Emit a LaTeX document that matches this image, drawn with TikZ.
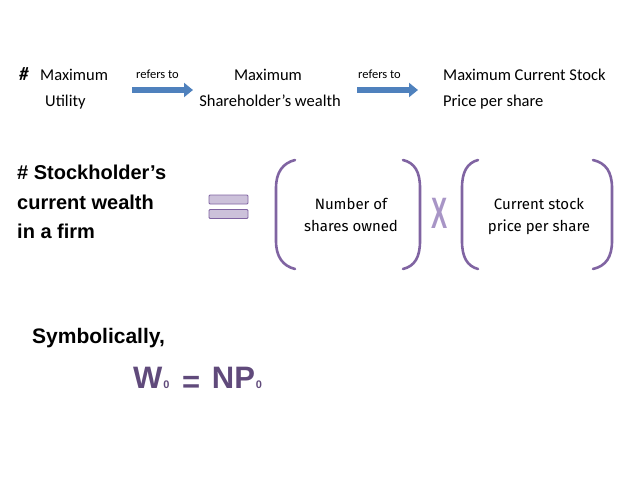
\documentclass[tikz,border=0pt]{standalone}
\usepackage{fontspec}
\setmainfont{Carlito}
\newfontfamily\arialfont{Liberation Sans}
\newfontfamily\handfont{Fira Sans}
\usetikzlibrary{arrows.meta}

\definecolor{arrowblue}{HTML}{4F81BD}
\definecolor{parenpurple}{HTML}{8064A2}
\definecolor{barfill}{HTML}{CCC1DA}
\definecolor{xfill}{HTML}{A895C6}
\definecolor{eqpurple}{HTML}{604A7B}

\begin{document}
\begin{tikzpicture}[x=1pt,y=-1pt,
    toptext/.style={anchor=base west,inner sep=0pt,font=\fontsize{16.5}{20}\selectfont},
    smalltext/.style={anchor=base west,inner sep=0pt,font=\fontsize{12.5}{15}\selectfont},
    boldtext/.style={anchor=base west,inner sep=0pt,font=\arialfont\bfseries\fontsize{20}{24}\selectfont},
    handtext/.style={anchor=base,inner sep=0pt,font=\handfont\fontsize{15}{18}\selectfont},
    refarrow/.style={draw=arrowblue,line width=6.5pt,-{Triangle[width=14pt,length=9pt]}},
    paren/.style={draw=parenpurple,line width=2.6pt,line cap=round},
    eqbar/.style={draw=parenpurple,fill=barfill,rounded corners=1pt,minimum width=39pt,minimum height=9pt,inner sep=0pt,line width=0.8pt}]
    \useasboundingbox (0,0) rectangle (638,479);

    % Top row: maximum utility -> wealth -> price
    \node[toptext,font=\bfseries\itshape\fontsize{19}{20}\selectfont] (hash1) at (19,80) {\#};
    \node[toptext] (util1) at (40,80) {Maximum};
    \node[toptext] (util2) at (45,106) {Utility};
    \node[smalltext] (ref1) at (136,78) {refers to};
    \node[toptext,anchor=base] (wealth1) at (268,80) {Maximum};
    \node[toptext,anchor=base] (wealth2) at (270,106) {Shareholder’s wealth};
    \node[smalltext] (ref2) at (358,78) {refers to};
    \node[toptext] (price1) at (443,80) {Maximum Current Stock};
    \node[toptext] (price2) at (443,106) {Price per share};

    \coordinate (a1) at (132,90);
    \coordinate (b1) at (193,90);
    \coordinate (a2) at (357,90);
    \coordinate (b2) at (418,90);
    \draw[refarrow] (a1) -- (b1);
    \draw[refarrow] (a2) -- (b2);

    % Wealth = shares x price
    \node[boldtext] (stock1) at (17,179) {\# Stockholder’s};
    \node[boldtext] (stock2) at (17,209) {current wealth};
    \node[boldtext] (stock3) at (17,238) {in a firm};

    \node[eqbar] (eqtop) at (228.5,199.5) {};
    \node[eqbar] (eqbot) at (228.5,214) {};

    \draw[paren] (295,160) .. controls (283,163) and (276,172) .. (276,188) -- (276,241) .. controls (276,257) and (283,266) .. (295,269);
    \draw[paren] (403,160) .. controls (415,163) and (420,172) .. (420,188) -- (420,241) .. controls (420,257) and (415,266) .. (403,269);
    \draw[paren] (478,160) .. controls (467,163) and (462,172) .. (462,188) -- (462,241) .. controls (462,257) and (467,266) .. (478,269);
    \draw[paren] (593,160) .. controls (606,163) and (612,172) .. (612,188) -- (612,241) .. controls (612,257) and (606,266) .. (593,269);

    \node[handtext] (num1) at (351,209) {Number of};
    \node[handtext] (num2) at (351,231) {shares owned};
    \node[inner sep=0pt,text=xfill,font=\arialfont\bfseries\fontsize{44}{44}\selectfont] (times) at (440,213.5) {\scalebox{0.55}[1]{X}};
    \node[handtext] (cur1) at (539,209) {Current stock};
    \node[handtext] (cur2) at (539,231) {price per share};

    % Symbolic form
    \node[boldtext,font=\arialfont\bfseries\fontsize{21}{24}\selectfont] (symb) at (32,343) {Symbolically,};
    \node[anchor=base west,inner sep=0pt,text=eqpurple,font=\arialfont\bfseries\fontsize{31}{34}\selectfont] (formula) at (133,388)
        {W\kern1pt{\fontsize{11}{11}\selectfont 0}\kern4pt\ \raisebox{-4pt}{=}\ \kern3pt NP\kern1pt{\fontsize{11}{11}\selectfont 0}};
\end{tikzpicture}
\end{document}
